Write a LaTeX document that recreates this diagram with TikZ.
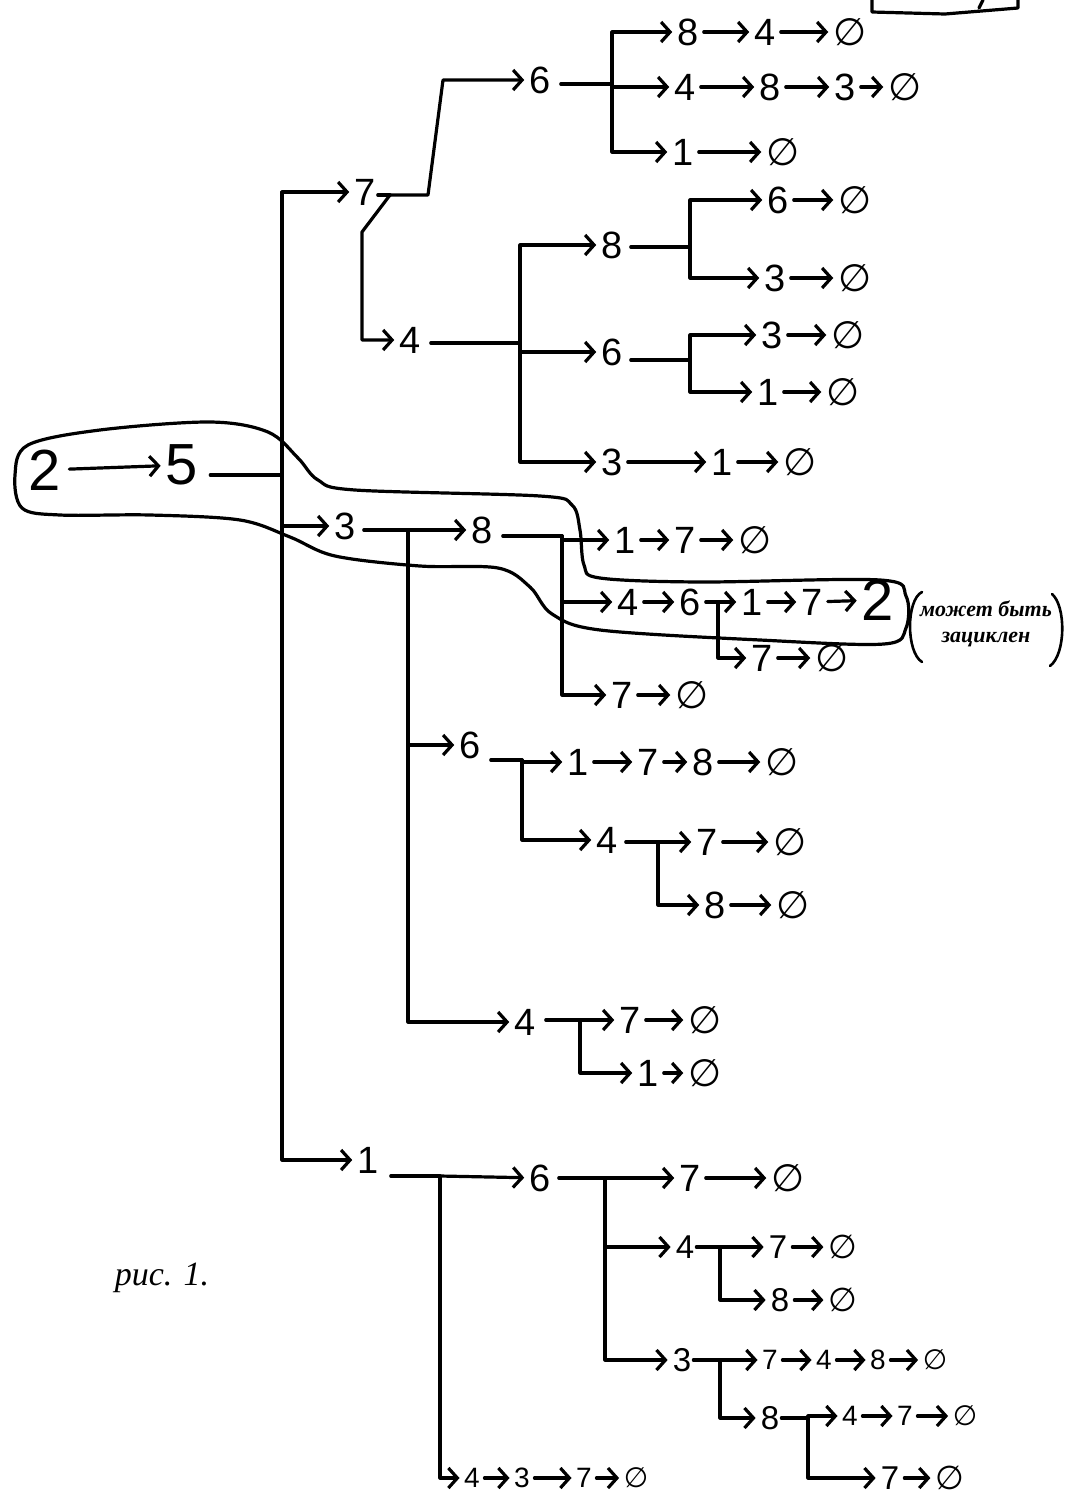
\documentclass[tikz,border=0pt]{standalone}
\usepackage{fontspec}
\setmainfont{Liberation Sans}
\newfontfamily\djv{DejaVu Sans}
\newfontfamily\hand{Liberation Serif}
\usetikzlibrary{arrows.meta}
\newcommand\es{{\djv ∅}}
\tikzset{
  x=1pt, y=-1pt,
  ln/.style={line width=3.2pt, line cap=round, line join=round},
  arr/.style={ln, -{Straight Barb[length=9pt,width=20pt]}, shorten >=3pt},
  dig/.style={font=\fontsize{38}{40}\selectfont, inner sep=2pt},
  mid/.style={font=\fontsize{33}{35}\selectfont, inner sep=2pt},
  sml/.style={font=\fontsize{28}{30}\selectfont, inner sep=1.5pt},
  big/.style={font=\fontsize{58}{60}\selectfont, inner sep=2pt},
  notetext/.style={font=\hand\bfseries\itshape\fontsize{22}{26}\selectfont, inner sep=0pt, align=center},
}
\newcommand\chainrow[4][dig]{%
  \foreach \xx/\lab [count=\ci] in {#4} {
    \node[#1] (#2-\ci) at (\xx,#3) {\lab};
    \ifnum\ci>1
      \pgfmathtruncatemacro\cj{\ci-1}
      \draw[arr, shorten <=3pt] (#2-\cj) -- (#2-\ci);
    \fi
  }}
\begin{document}
\begin{tikzpicture}
\useasboundingbox (0,0) rectangle (1069,1505);
\fill[white] (0,0) rectangle (1069,1505);

% root
\node[big] (n2) at (45,470) {2};
\node[big] (n5) at (182,465) {5};
\draw[arr, shorten <=6pt] (n2) -- (n5);
\coordinate (tr) at (282,475);
\draw[ln] ([xshift=10pt]n5.east |- tr) -- (tr);

% level 1
\node[dig] (n7) at (365,192) {7};
\node[dig] (n3m) at (345,526) {3};
\node[dig] (n1b) at (368,1160) {1};
\draw[arr] (tr) |- (n7);
\draw[arr] (tr) |- (n3m);
\draw[arr] (tr) |- (n1b);

% ---------- upper subtree (7)
\node[dig] (n6t) at (540,80) {6};
\node[dig] (n4a) at (410,340) {4};
\coordinate (j7) at (390,195);
\draw[ln] (n7.east |- j7) -- (j7);
\draw[arr] (j7) -- (428,195) -- (443,80) -- (n6t.west);
\draw[arr] (j7) -- (362,232) |- (n4a.west);

% 6 (top) fork
\coordinate (f6t) at (612,84);
\draw[ln] ([xshift=8pt]n6t.east |- f6t) -- (f6t);
\chainrow{rA}{32}{688/8,765/4,850/\es}
\chainrow{rB}{87}{685/4,770/8,845/3,905/\es}
\chainrow{rC}{152}{683/1,783/\es}
\draw[arr] (f6t) |- (rA-1);
\draw[arr] (f6t) |- (rB-1);
\draw[arr] (f6t) |- (rC-1);

% 4 (a) fork
\coordinate (f4a) at (520,343);
\node[dig] (n8b) at (612,245) {8};
\node[dig] (n6b) at (612,352) {6};
\chainrow{rQ}{462}{612/3,722/1,800/\es}
\draw[ln] ([xshift=8pt]n4a.east |- f4a) -- (f4a);
\draw[arr] (f4a) |- (n8b);
\draw[arr] (f4a) |- (n6b);
\draw[arr] (f4a) |- (rQ-1);

% 8 (b) fork
\coordinate (f8b) at (690,247);
\draw[ln] ([xshift=6pt]n8b.east |- f8b) -- (f8b);
\chainrow{rD}{200}{778/6,855/\es}
\chainrow{rE}{278}{775/3,855/\es}
\draw[arr] (f8b) |- (rD-1);
\draw[arr] (f8b) |- (rE-1);

% 6 (b) fork
\coordinate (f6b) at (690,360);
\draw[ln] ([xshift=6pt]n6b.east |- f6b) -- (f6b);
\chainrow{rF}{335}{772/3,848/\es}
\chainrow{rG}{392}{768/1,843/\es}
\draw[arr] (f6b) |- (rF-1);
\draw[arr] (f6b) |- (rG-1);

% ---------- middle subtree (3)
\node[dig] (n8m) at (482,530) {8};
\node[dig] (n6m) at (470,745) {6};
\node[dig] (n4m) at (525,1022) {4};
\coordinate (f3m) at (408,530);
\draw[ln] ([xshift=6pt]n3m.east |- f3m) -- (f3m);
\draw[arr] (f3m) -- (n8m);
\draw[arr] (f3m) |- (n6m);
\draw[arr] (f3m) |- (n4m);

% 8 (m) fork
\coordinate (f8m) at (562,536);
\draw[ln] ([xshift=8pt]n8m.east |- f8m) -- (f8m);
\chainrow{rH}{540}{625/1,685/7,755/\es}
\chainrow{rI}{602}{628/4,690/6,752/1,812/7}
\node[big] (n2e) at (878,600) {2};
\draw[arr, shorten <=3pt] (rI-4) -- (n2e);
\chainrow{rJ}{695}{622/7,692/\es}
\draw[arr] (f8m) |- (rH-1);
\draw[arr] (f8m) |- (rI-1);
\draw[arr] (f8m) |- (rJ-1);
\coordinate (f6i) at (718,602);
\chainrow{rK}{658}{762/7,832/\es}
\draw[arr] (f6i) |- (rK-1);

% 6 (m) fork
\coordinate (f6m) at (522,760);
\draw[ln] ([xshift=8pt]n6m.east |- f6m) -- (f6m);
\chainrow{rL}{762}{578/1,648/7,703/8,782/\es}
\node[dig] (n4n) at (607,840) {4};
\draw[arr] (f6m) |- (rL-1);
\draw[arr] (f6m) |- (n4n);
\coordinate (f4n) at (658,842);
\draw[ln] ([xshift=6pt]n4n.east |- f4n) -- (f4n);
\chainrow{rM}{842}{707/7,790/\es}
\chainrow{rN}{905}{715/8,793/\es}
\draw[arr] (f4n) |- (rM-1);
\draw[arr] (f4n) |- (rN-1);

% 4 (m) fork
\coordinate (f4m) at (580,1020);
\draw[ln] ([xshift=8pt]n4m.east |- f4m) -- (f4m);
\chainrow{rO}{1020}{630/7,705/\es}
\chainrow{rP}{1073}{648/1,705/\es}
\draw[arr] (f4m) |- (rO-1);
\draw[arr] (f4m) |- (rP-1);

% ---------- lower subtree (1)
\node[dig] (n6c) at (540,1178) {6};
\coordinate (f1b) at (440,1176);
\draw[ln] ([xshift=10pt]n1b.east |- f1b) -- (f1b);
\draw[arr] (f1b) -- (n6c);
\chainrow[sml]{rR}{1478}{472/4,522/3,584/7,636/\es}
\draw[arr] (f1b) |- (rR-1);

\coordinate (f6c) at (605,1178);
\draw[ln] ([xshift=6pt]n6c.east |- f6c) -- (f6c);
\chainrow{rS}{1178}{690/7,788/\es}
\node[mid] (n4c) at (685,1247) {4};
\node[mid] (n3c) at (682,1360) {3};
\draw[arr] (f6c) |- (rS-1);
\draw[arr] (f6c) |- (n4c);
\draw[arr] (f6c) |- (n3c);

\coordinate (f4c) at (720,1247);
\draw[ln] (n4c.east) -- (f4c);
\chainrow[mid]{rT}{1247}{778/7,843/\es}
\chainrow[mid]{rU}{1300}{780/8,843/\es}
\draw[arr] (f4c) |- (rT-1);
\draw[arr] (f4c) |- (rU-1);

\coordinate (f3c) at (720,1360);
\draw[ln] (n3c.east) -- (f3c);
\chainrow[sml]{rV}{1360}{770/7,824/4,878/8,935/\es}
\node[mid] (n8c) at (770,1418) {8};
\draw[arr] (f3c) |- (rV-1);
\draw[arr] (f3c) |- (n8c);
\coordinate (f8c) at (808,1418);
\draw[ln] (n8c.east) -- (f8c);
\chainrow[sml]{rW}{1416}{850/4,905/7,965/\es}
\chainrow[mid]{rX}{1478}{890/7,950/\es}
\draw[arr] (f8c) |- (rW-1);
\draw[arr] (f8c) |- (rX-1);

% ---------- loop outline
\draw[ln] plot[smooth cycle, tension=0.55] coordinates {
 (15,475) (28,445) (100,430) (210,422) (268,432) (298,458) (318,480)
 (355,490) (540,496) (572,505) (580,530) (584,565) (600,578) (700,582)
 (880,580) (906,596) (906,628) (884,644) (760,640) (600,630) (552,614)
 (530,587) (498,568) (420,566) (335,556) (290,537) (240,520) (150,515)
 (60,515) (22,508)};

% note with hand-drawn parentheses
\node[notetext] (note) at (986,624) {может быть\\ зациклен};
\draw[ln, line width=2.6pt] (922,592) .. controls (906,600) and (906,652) .. (922,662);
\draw[ln, line width=2.6pt] (1052,594) .. controls (1066,606) and (1066,654) .. (1050,666);

% top-right box fragment
\draw[ln] (872,0) -- (872,12) -- (945,14) -- (1018,8) -- (1018,0);
\draw[ln] (983,0) -- (979,8);

% caption
\node[font=\hand\itshape\fontsize{34}{36}\selectfont] (lbl) at (162,1278) {рис. 1.};
\end{tikzpicture}
\end{document}
